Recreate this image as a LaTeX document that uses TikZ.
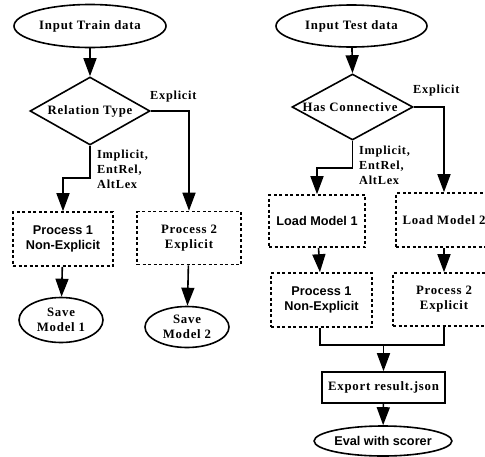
\documentclass[tikz,border=0pt]{standalone}
\usepackage{fontspec}
\setmainfont{Liberation Serif}
\newfontfamily\spacedserif{Liberation Serif}[LetterSpace=6]
\newfontfamily\plainsans{Liberation Sans}
\usetikzlibrary{shapes.geometric,arrows.meta}

\tikzset{
  every node/.style={inner sep=0pt, align=center},
  sertxt/.style={font=\spacedserif\bfseries\fontsize{12.8}{15}\selectfont},
  santxt/.style={font=\plainsans\bfseries\fontsize{12.7}{15}\selectfont},
  lbltxt/.style={font=\spacedserif\bfseries\fontsize{12.3}{15}\selectfont, align=left},
  oval/.style={ellipse, draw, line width=1.6pt},
  decision/.style={diamond, draw, line width=1.6pt},
  dashbox/.style={rectangle, draw, line width=1.6pt, dash pattern=on 3pt off 2.5pt},
  solidbox/.style={rectangle, draw, line width=1.6pt},
  flow/.style={line width=1.6pt, -{Triangle[width=13pt,length=18pt]}},
  plain/.style={line width=1.6pt}
}

\begin{document}
\begin{tikzpicture}[x=1pt, y=-1pt]
\useasboundingbox (0,0) rectangle (485,456);

% ---- training branch ----
\node[oval, sertxt, minimum width=152pt, minimum height=43pt] (intrain) at (90,26) {Input Train data};
\node[decision, minimum width=120pt, minimum height=68pt] (reltype) at (90,111) {};
\node[sertxt] (reltypetxt) at (90,111) {Relation Type};
\node[dashbox, santxt, minimum width=100pt, minimum height=54pt] (proc1) at (63,239) {Process 1\\Non-Explicit};
\node[dashbox, sertxt, minimum width=104pt, minimum height=53pt] (proc2) at (189,238) {Process 2\\Explicit};
\node[oval, sertxt, minimum width=84pt, minimum height=45pt] (save1) at (61,320) {Save\\Model 1};
\node[oval, sertxt, minimum width=84pt, minimum height=41pt] (save2) at (187,327) {Save\\Model 2};

\coordinate (knee1) at (90,178);
\node[lbltxt, anchor=west] (explL) at (150,97) {Explicit};
\node[lbltxt, anchor=north west] (implL) at (97,150) {Implicit,\\EntRel,\\AltLex};

\draw[flow] (intrain) -- (reltype.north);
\draw[flow] (reltype.east) -| (proc2.north);
\draw[flow] (reltype.south) -- (knee1) -| (proc1.north);
\draw[flow] (proc1) -- (save1);
\draw[flow] (proc2) -- (save2);

% ---- testing branch ----
\node[oval, sertxt, minimum width=151pt, minimum height=42pt] (intest) at (351.5,26) {Input Test data};
\node[decision, minimum width=121pt, minimum height=66pt] (hascon) at (352.5,107) {};
\node[sertxt] (hascontxt) at (350,107) {Has Connective};
\node[dashbox, santxt, minimum width=96pt, minimum height=52pt] (load1) at (317,221) {Load Model 1};
\node[dashbox, sertxt, minimum width=96pt, minimum height=54pt] (load2) at (444,220) {Load Model 2};
\node[dashbox, santxt, minimum width=101pt, minimum height=54pt] (tproc1) at (321.5,300) {Process 1\\Non-Explicit};
\node[dashbox, sertxt, minimum width=102pt, minimum height=53pt] (tproc2) at (444,299.5) {Process 2\\Explicit};
\node[solidbox, sertxt, minimum width=123pt, minimum height=31pt] (export) at (383.5,387.5) {Export result.json};
\node[oval, santxt, minimum width=130pt, minimum height=30pt] (eval) at (383,441) {Eval with scorer};

\coordinate (knee2) at (352.5,168);
\coordinate (merge) at (383.5,345);
\node[lbltxt, anchor=west] (explR) at (413,91) {Explicit};
\node[lbltxt, anchor=north west] (implR) at (359,146) {Implicit,\\EntRel,\\AltLex};

\draw[flow] (intest) -- (hascon.north);
\draw[flow] (hascon.east) -| (load2.north);
\draw[flow] (hascon.south) -- (knee2) -| (load1.north);
\draw[flow] (load1) -- (tproc1);
\draw[flow] (load2) -- (tproc2);
\draw[plain] (tproc1.south -| 320,0) |- (merge) -| (tproc2.south);
\draw[flow] (merge) -- (export);
\draw[flow] (export) -- (eval);
\end{tikzpicture}
\end{document}
